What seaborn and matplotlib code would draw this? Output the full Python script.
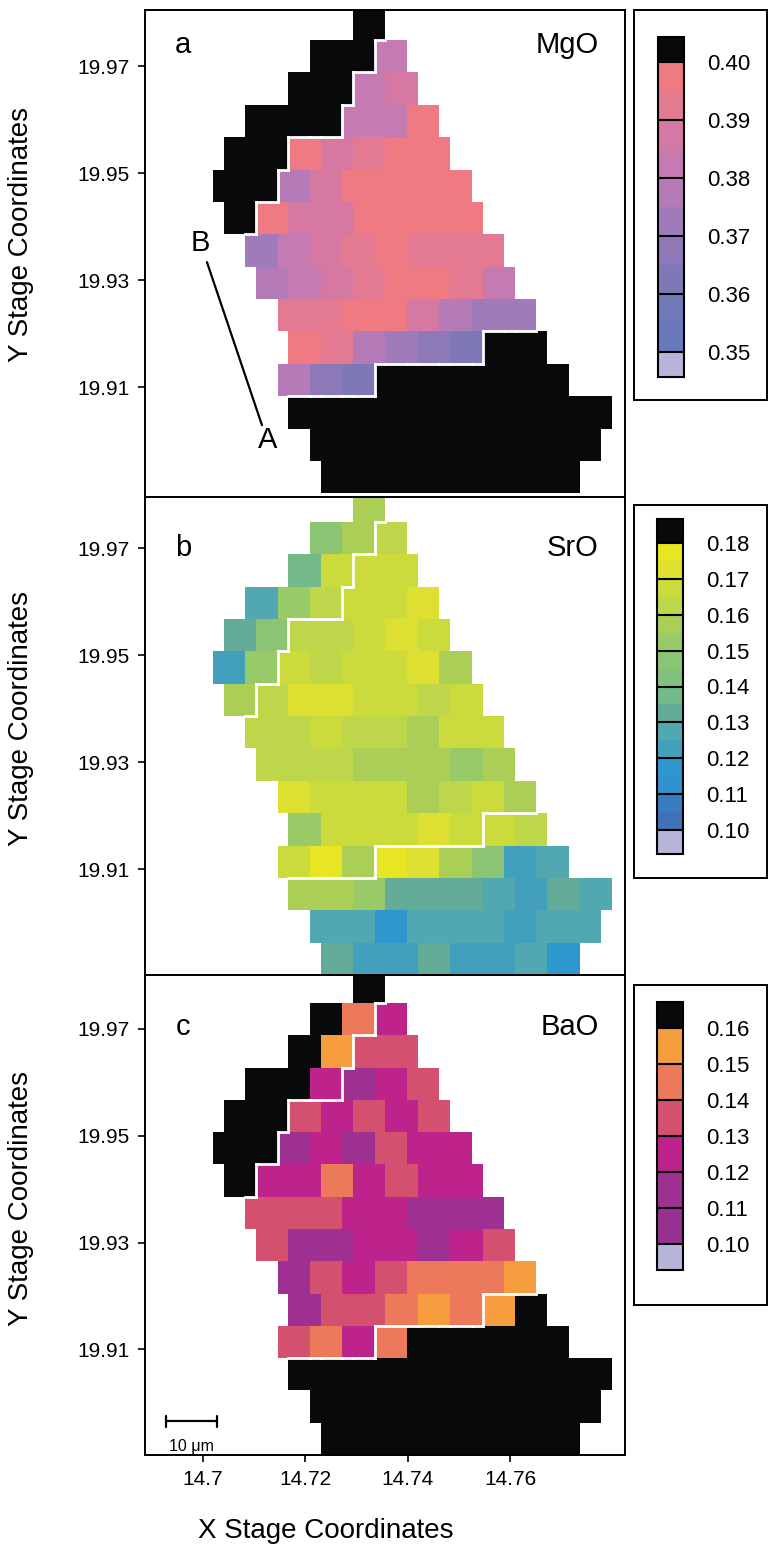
import numpy as np
import matplotlib
matplotlib.use("Agg")
import matplotlib.pyplot as plt
import seaborn as sns
from matplotlib.colors import ListedColormap, Normalize
from matplotlib.collections import LineCollection
import matplotlib.cm as cm

sns.set_theme(style="ticks")
plt.rcParams['font.family'] = ['Liberation Sans', 'DejaVu Sans']
for key in ["text.color", "axes.labelcolor", "xtick.color", "ytick.color", "axes.edgecolor"]:
    plt.rcParams[key] = "black"

# ---------------- data ----------------
XTICKS = [14.70, 14.72, 14.74, 14.76]
XTICK_LABELS = ["14.7", "14.72", "14.74", "14.76"]
YTICKS = [19.91, 19.93, 19.95, 19.97]
YTICK_LABELS = ["19.91", "19.93", "19.95", "19.97"]

# first spot of each analysis row (top to bottom), in thirds of a spot width
ROW_START = [13, 9, 7, 3, 1, 0, 1, 3, 4, 6, 7, 6, 7, 9, 10]

K1 = 0.42   # MgO above scale (black)
MGO = [
    [K1],
    [K1, K1, 0.382],
    [K1, K1, 0.382, 0.387],
    [K1, K1, K1, 0.382, 0.382, 0.397],
    [K1, K1, 0.397, 0.387, 0.392, 0.397, 0.397],
    [K1, K1, 0.377, 0.387, 0.397, 0.397, 0.397, 0.397],
    [K1, 0.397, 0.387, 0.387, 0.397, 0.397, 0.397, 0.397],
    [0.372, 0.382, 0.387, 0.392, 0.397, 0.392, 0.392, 0.392],
    [0.377, 0.382, 0.387, 0.392, 0.397, 0.397, 0.392, 0.382],
    [0.392, 0.392, 0.397, 0.397, 0.387, 0.377, 0.372, 0.372],
    [0.397, 0.392, 0.377, 0.372, 0.367, 0.362, K1, K1],
    [0.377, 0.367, 0.362, K1, K1, K1, K1, K1, K1],
    [K1, K1, K1, K1, K1, K1, K1, K1, K1, K1],
    [K1, K1, K1, K1, K1, K1, K1, K1, K1],
    [K1, K1, K1, K1, K1, K1, K1, K1],
]

SRO = [
    [0.157],
    [0.147, 0.157, 0.162],
    [0.137, 0.167, 0.167, 0.167],
    [0.127, 0.152, 0.162, 0.167, 0.167, 0.172],
    [0.132, 0.147, 0.162, 0.162, 0.167, 0.172, 0.167],
    [0.122, 0.152, 0.167, 0.162, 0.167, 0.167, 0.172, 0.157],
    [0.157, 0.162, 0.172, 0.172, 0.167, 0.167, 0.162, 0.167],
    [0.162, 0.162, 0.167, 0.162, 0.162, 0.157, 0.167, 0.167],
    [0.162, 0.162, 0.162, 0.157, 0.157, 0.157, 0.152, 0.157],
    [0.172, 0.167, 0.167, 0.167, 0.157, 0.162, 0.167, 0.157],
    [0.152, 0.167, 0.167, 0.167, 0.172, 0.167, 0.167, 0.162],
    [0.167, 0.177, 0.157, 0.177, 0.172, 0.157, 0.147, 0.122, 0.127],
    [0.157, 0.157, 0.152, 0.132, 0.132, 0.132, 0.127, 0.122, 0.132, 0.127],
    [0.127, 0.127, 0.117, 0.127, 0.127, 0.127, 0.122, 0.127, 0.127],
    [0.132, 0.122, 0.122, 0.132, 0.122, 0.122, 0.127, 0.117],
]

K3 = 0.18   # BaO above scale (black)
BAO = [
    [K3],
    [K3, 0.145, 0.125],
    [K3, 0.155, 0.135, 0.135],
    [K3, K3, 0.125, 0.115, 0.125, 0.135],
    [K3, K3, 0.135, 0.125, 0.135, 0.125, 0.135],
    [K3, K3, 0.115, 0.125, 0.115, 0.135, 0.125, 0.125],
    [K3, 0.125, 0.125, 0.145, 0.125, 0.135, 0.125, 0.125],
    [0.135, 0.135, 0.135, 0.125, 0.125, 0.115, 0.115, 0.115],
    [0.135, 0.115, 0.115, 0.125, 0.125, 0.115, 0.125, 0.135],
    [0.115, 0.135, 0.125, 0.135, 0.145, 0.145, 0.145, 0.155],
    [0.115, 0.135, 0.135, 0.145, 0.155, 0.145, 0.155, K3],
    [0.135, 0.145, 0.125, 0.145, K3, K3, K3, K3, K3],
    [K3, K3, K3, K3, K3, K3, K3, K3, K3, K3],
    [K3, K3, K3, K3, K3, K3, K3, K3, K3],
    [K3, K3, K3, K3, K3, K3, K3, K3],
]

MGO_TICKS = [0.35, 0.36, 0.37, 0.38, 0.39, 0.40]
SRO_TICKS = [0.10, 0.11, 0.12, 0.13, 0.14, 0.15, 0.16, 0.17, 0.18]
BAO_TICKS = [0.10, 0.11, 0.12, 0.13, 0.14, 0.15, 0.16]

# ---------------- colours ----------------
MGO_COLORS = ["#6A78BC", "#7078B8", "#7E78B8", "#8E79B8", "#A07BBA",
              "#B47BB8", "#C67AB2", "#D679A2", "#E47992", "#F07A82"]
SRO_COLORS = ["#4070B5", "#3A7CC2", "#3090D0", "#2E97CE", "#42A0BD", "#52A8B0",
              "#62AC98", "#73B98A", "#80C07C", "#8BC574", "#98CA68", "#ABCF56",
              "#BDD64A", "#CBDB3C", "#DDE030", "#E8E622"]
BAO_COLORS = ["#98308F", "#9E3092", "#BE238B", "#D4506F", "#EC7A5A", "#F69D40"]
OVER = "#08090B"
UNDER = "#B8B5DA"

# ---------------- geometry (stage coordinates) ----------------
X_ORIGIN = 14.70195      # left edge of the first third-spot column
X_THIRD = 0.0021073      # one third of a spot width
Y_BASE = 19.8902         # bottom edge of lowest spot row
Y_ROW = 0.0060486        # spot row height
NROW, NSUB = 15, 37
XLIM = (14.68867, 14.78247)

W, H = 773, 1557
fig = plt.figure(figsize=(W / 100, H / 100), dpi=100)


def fig_axes(x0, y0, x1, y1):
    return fig.add_axes([x0 / W, 1 - y1 / H, (x1 - x0) / W, (y1 - y0) / H])


def xi(x):
    return (np.asarray(x) - X_ORIGIN) / X_THIRD


def yi(y):
    return NROW - (np.asarray(y) - Y_BASE) / Y_ROW


def fine_matrix(rows):
    M = np.full((NROW, NSUB), np.nan)
    for r, (m, vals) in enumerate(zip(ROW_START, rows)):
        for c, v in enumerate(vals):
            M[r, m + 3 * c: m + 3 * c + 3] = v
    return M


def boundary_segments(inc):
    segs = []
    for r in range(NROW):
        m = ROW_START[r]
        n = len(inc[r])
        for c in range(n - 1):
            if inc[r][c] != inc[r][c + 1]:
                x = m + 3 * (c + 1)
                segs.append([(x, r), (x, r + 1)])
        if r < NROW - 1:
            m2 = ROW_START[r + 1]
            for c in range(n):
                a0, a1 = m + 3 * c, m + 3 * c + 3
                for d in range(len(inc[r + 1])):
                    b0, b1 = m2 + 3 * d, m2 + 3 * d + 3
                    lo, hi = max(a0, b0), min(a1, b1)
                    if hi > lo and inc[r][c] != inc[r + 1][d]:
                        segs.append([(lo, r + 1), (hi, r + 1)])
    return segs


inclusion = [[v > MGO_TICKS[-1] for v in row] for row in MGO]
segments = boundary_segments(inclusion)

panels = [
    dict(rows=MGO, colors=MGO_COLORS, ticks=MGO_TICKS, letter="a", name="MgO",
         ax=(145, 10, 625, 497), ylim=(19.8895, 19.98049), ty=35, ly=235,
         frame=(634, 10, 767, 400), bar=(658, 37, 684, 377), ef=0.086),
    dict(rows=SRO, colors=SRO_COLORS, ticks=SRO_TICKS, letter="b", name="SrO",
         ax=(145, 497, 625, 975), ylim=(19.8902, 19.97955), ty=51, ly=718,
         frame=(634, 505, 767, 878), bar=(657, 519, 683, 854), ef=0.084),
    dict(rows=BAO, colors=BAO_COLORS, ticks=BAO_TICKS, letter="c", name="BaO",
         ax=(145, 975, 625, 1455), ylim=(19.8902, 19.98011), ty=52, ly=1198,
         frame=(634, 985, 767, 1305), bar=(657, 1002, 683, 1270), ef=0.12),
]

TICK_FS = 15
LABEL_FS = 20
for i, p in enumerate(panels):
    ax = fig_axes(*p["ax"])
    axh = p["ax"][3] - p["ax"][1]
    cmap = ListedColormap(p["colors"]).with_extremes(over=OVER, under=UNDER)
    vmin, vmax = p["ticks"][0], p["ticks"][-1]
    M = fine_matrix(p["rows"])
    sns.heatmap(M, ax=ax, cmap=cmap, vmin=vmin, vmax=vmax, cbar=False,
                xticklabels=False, yticklabels=False, linewidths=0)
    ax.add_collection(LineCollection(segments, colors="white", linewidths=2.0,
                                     capstyle="projecting", zorder=5))
    ax.set_xlim(xi(XLIM[0]), xi(XLIM[1]))
    ax.set_ylim(yi(p["ylim"][0]), yi(p["ylim"][1]))
    ax.set_yticks(yi(YTICKS))
    ax.set_yticklabels(YTICK_LABELS, fontsize=TICK_FS, rotation=0)
    if i == 2:
        ax.set_xticks(xi(XTICKS))
        ax.set_xticklabels(XTICK_LABELS, fontsize=TICK_FS, rotation=0)
        ax.set_xlabel("X Stage Coordinates", fontsize=LABEL_FS)
        ax.xaxis.set_label_coords((326 - 145) / 480, -(1518 - 1455) / axh)
    else:
        ax.set_xticks([])
    ax.tick_params(axis="both", direction="out", length=5, width=1.2,
                   color="black", left=True, bottom=(i == 2), pad=6)
    ax.set_ylabel("Y Stage Coordinates", fontsize=LABEL_FS)
    ax.yaxis.set_label_coords((34 - 145) / 480, 1 - (p["ly"] - p["ax"][1]) / axh)
    for s in ax.spines.values():
        s.set_visible(True)
        s.set_color("black")
        s.set_linewidth(1.4)
    ax.set_facecolor("white")
    ty = 1 - p["ty"] / axh
    ax.text(0.079, ty, p["letter"], transform=ax.transAxes, fontsize=21,
            ha="center", va="center")
    ax.text(0.945, ty, p["name"], transform=ax.transAxes, fontsize=21,
            ha="right", va="center")

    if i == 0:
        ax.plot(xi([14.70078, 14.71153]), yi([19.93338, 19.90292]),
                color="black", lw=1.6, zorder=6)
        ax.text(xi(14.69941), yi(19.93694), "B", fontsize=21, ha="center", va="center")
        ax.text(xi(14.71270), yi(19.90011), "A", fontsize=21, ha="center", va="center")
    if i == 2:
        xs = xi([14.6928, 14.7028])
        ys = yi(19.8965)
        ax.plot(xs, [ys, ys], color="black", lw=1.6, zorder=6)
        for xx in xs:
            ax.plot([xx, xx], [ys - 0.17, ys + 0.17], color="black", lw=1.6, zorder=6)
        ax.text(xs.mean(), yi(19.8918), "10 \u03bcm", fontsize=11.5, ha="center", va="center")

    # colour bar in framed box
    frame = fig_axes(*p["frame"])
    frame.set_xticks([])
    frame.set_yticks([])
    for s in frame.spines.values():
        s.set_color("black")
        s.set_linewidth(1.4)
    cax = fig_axes(*p["bar"])
    sm = cm.ScalarMappable(norm=Normalize(vmin, vmax), cmap=cmap)
    cb = fig.colorbar(sm, cax=cax, extend="both", extendrect=True,
                      extendfrac=p["ef"], ticks=p["ticks"])
    cb.set_ticklabels([f"{t:.2f}" for t in p["ticks"]])
    cb.outline.set_linewidth(1.5)
    cb.outline.set_edgecolor("black")
    cb.ax.tick_params(length=0, pad=17, labelsize=16)
    for t in p["ticks"]:
        cb.ax.axhline(t, color="black", lw=1.5, clip_on=False)

fig.savefig("out.png", dpi=100)
